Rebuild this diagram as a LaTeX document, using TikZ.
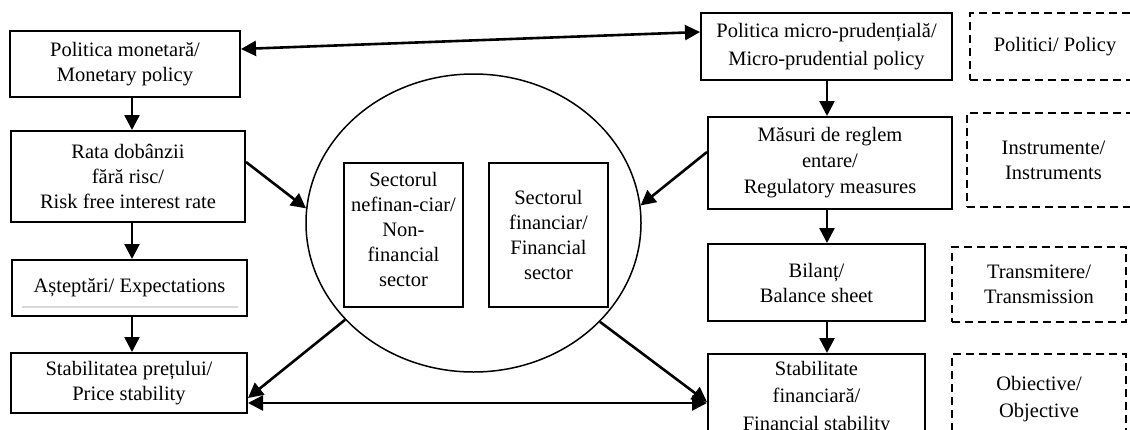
\documentclass[tikz,border=0pt]{standalone}
\usepackage{fontspec}
\setmainfont{Liberation Serif}
\usetikzlibrary{shapes.geometric,arrows.meta,calc}
\newcommand{\tf}{\fontsize{20.5}{25}\selectfont}
\begin{document}
\begin{tikzpicture}[x=1pt,y=-1pt,
 box/.style={draw,line width=2pt,inner sep=0pt,align=center,font=\tf},
 dbox/.style={draw,dash pattern=on 8pt off 5pt,line width=1.5pt,inner sep=0pt,align=center,font=\tf},
 txt/.style={inner sep=0pt,align=center,font=\tf},
 arr/.style={line width=2.6pt,-{Triangle[length=15pt,width=15pt]}},
 darr/.style={line width=2.6pt,{Triangle[length=15pt,width=15pt]}-{Triangle[length=15pt,width=15pt]}}]
\useasboundingbox (0,0) rectangle (1130,429);
\clip (0,0) rectangle (1130,429);
% left column
\node[box,minimum width=230pt,minimum height=66pt] (mon) at (125,64) {Politica monetară/\\Monetary policy};
\node[box,minimum width=234pt,minimum height=91pt] (rate) at (128,176.5) {Rata dobânzii\\fără risc/\\Risk free interest rate};
\node[box,minimum width=235pt,minimum height=56pt] (exp) at (129.5,288) {Așteptări/ Expectations};
\draw[gray!30,line width=1.5pt] (22,307) -- (238,307);
\node[box,minimum width=236pt,minimum height=60pt] (price) at (129,383) {Stabilitatea prețului/\\Price stability};
% ellipse
\node[draw,ellipse,line width=1.5pt,minimum width=335pt,minimum height=298pt,inner sep=0pt] (ell) at (473.5,223) {};
\node[box,line width=1.6pt,minimum width=119pt,minimum height=144pt] (nonfin) at (403.5,235) {};
\node[txt] (nonfintxt) at (403.5,229) {Sectorul\\nefinan-ciar/\\Non-\\financial\\sector};
\node[box,line width=1.6pt,minimum width=119pt,minimum height=144pt] (fin) at (548.5,235) {Sectorul\\financiar/\\Financial\\sector};
% right column
\node[box,minimum width=251pt,minimum height=67pt,font=\fontsize{20.5}{28}\selectfont] (micro) at (826.5,46.5) {Politica micro-prudențială/\\Micro-prudential policy};
\node[box,minimum width=244pt,minimum height=92pt,font=\fontsize{20.5}{26}\selectfont] (reg) at (830,163) {Măsuri de reglem\\entare/\\Regulatory measures};
\node[box,minimum width=217pt,minimum height=77pt] (bil) at (816.5,282.5) {Bilanț/\\Balance sheet};
\node[box,minimum width=217pt,minimum height=116pt] (finstab) at (816.5,412) {};
\node[txt,font=\fontsize{20.5}{27.5}\selectfont] (finstabtxt) at (816.5,398) {Stabilitate\\financiară/\\Financial stability};
% dashed column
\node[dbox,minimum width=170pt,minimum height=67pt] (pol) at (1055,46.5) {Politici/ Policy};
\node[dbox,minimum width=173pt,minimum height=94pt] (ins) at (1053.5,160) {Instrumente/\\Instruments};
\node[dbox,minimum width=174pt,minimum height=75pt] (tra) at (1039,284.5) {Transmitere/\\Transmission};
\node[dbox,minimum width=174pt,minimum height=116pt] (obj) at (1039,412) {};
\node[txt,font=\fontsize{20.5}{27}\selectfont] (objtxt) at (1039,399) {Obiective/\\Objective};
% arrows
\coordinate (ax) at (132,0);
\coordinate (bx) at (827,0);
\coordinate (hy) at (0,403);
\draw[arr] (mon.south -| ax) -- (rate.north -| ax);
\draw[arr] (rate.south -| ax) -- (exp.north -| ax);
\draw[arr] (exp.south -| ax) -- (price.north -| ax);
\draw[arr] (micro.south -| bx) -- (reg.north -| bx);
\draw[arr] (reg.south -| bx) -- (bil.north -| bx);
\draw[arr] (bil.south -| bx) -- (finstab.north -| bx);
\draw[darr] ($(mon.north east)+(0,19)$) -- ($(micro.north west)+(0,20)$);
\draw[arr] ($(rate.north east)+(0,32)$) -- (ell.175);
\draw[arr] ($(reg.north west)+(0,36)$) -- (ell.6);
\draw[arr] (ell.217) -- ($(price.north east)+(0,46)$);
\draw[arr] (ell.322) -- ($(finstab.north west)+(0,49)$);
\draw[darr] (price.east |- hy) -- (finstab.west |- hy);
\end{tikzpicture}
\end{document}
